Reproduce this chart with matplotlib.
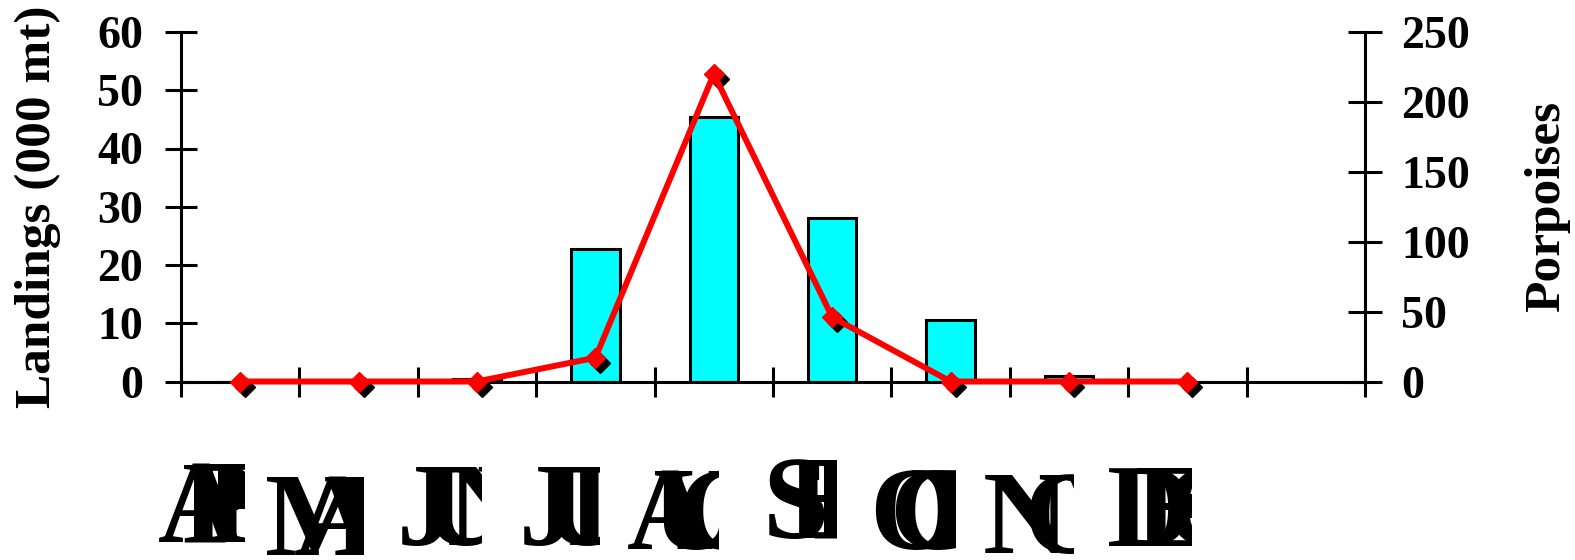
import numpy as np
import matplotlib
matplotlib.use("Agg")
import matplotlib.pyplot as plt
from matplotlib import transforms
from matplotlib.transforms import Bbox, TransformedBbox

plt.rcParams['font.family'] = ['Liberation Serif', 'DejaVu Serif']
plt.rcParams['font.weight'] = 'bold'

# data
months = ["APR", "MAY", "JUN", "JUL", "AUG", "SEP", "OCT", "NOV", "DEC"]
landings = [0.0, 0.0, 0.5, 22.7, 45.4, 28.1, 10.6, 1.0, 0.0]     # 000 mt
porpoises = [0, 0, 0, 17, 220, 46, 0, 0, 0]
n_slots = 10  # the last slot on the axis is empty

# layout of the squashed month labels (pixels)
label_start = [-82, -94, -80, -77, -87, -70, -81, -86, -80]
label_step = [24, 29, 25, 25, 25, 25, 20, 40, 28]
label_drop = [-3, 10, 0, 0, 4, -7, 4, 8, 1]

fig = plt.figure(figsize=(15.75, 5.6), dpi=100)
ax = fig.add_axes([181 / 1575, 178.5 / 560, 1184 / 1575, 349.5 / 560])
ax2 = ax.twinx()

x = np.arange(len(months))
ax.bar(x, landings, width=0.41, color='#00FFFF', edgecolor='black',
       linewidth=2.2, zorder=2)

# black "shadow" markers, then the red series on top
shadow = transforms.offset_copy(ax2.transData, fig=fig, x=5, y=-5, units='dots')
ax2.plot(x, porpoises, linestyle='none', marker='D', markersize=10,
         color='black', transform=shadow, zorder=3, clip_on=False)
ax2.plot(x, porpoises, color='#FF0000', linewidth=4.3, marker='D',
         markersize=10, zorder=4, clip_on=False)

ax.set_xlim(-0.5, n_slots - 0.5)
ax.set_ylim(0, 60)
ax2.set_ylim(0, 250)
ax.set_yticks(range(0, 61, 10))
ax2.set_yticks(range(0, 251, 50))
ax.set_xticks(np.arange(-0.5, n_slots, 1))
ax.set_xticklabels([])

for a in (ax, ax2):
    a.spines['top'].set_visible(False)
    for s in a.spines.values():
        s.set_linewidth(2.2)
ax.spines['right'].set_visible(False)
ax2.spines['left'].set_visible(False)
ax2.spines['bottom'].set_visible(False)

ax.tick_params(axis='y', direction='inout', length=23, width=2.2, pad=16,
               labelsize=33)
ax.tick_params(axis='x', direction='inout', length=22, width=2.2)
ax2.tick_params(axis='y', direction='inout', length=24, width=2.2, pad=14,
                labelsize=33)
for lab in ax.get_yticklabels() + ax2.get_yticklabels():
    lab.set_fontweight('bold')

ax.set_ylabel("Landings (000 mt)", fontsize=37, fontweight='bold', labelpad=26)
ax2.set_ylabel("Porpoises", fontsize=37, fontweight='bold', labelpad=39)

# month labels: letters piled on top of each other and cut at the category centre
blend = transforms.blended_transform_factory(ax.transData, ax.transAxes)
base_y = (15 - 178.5) / 349.5
px = 1 / 100.0
for i, m in enumerate(months):
    clip = TransformedBbox(Bbox([[i - 1.0, -1.2], [i + 5 / 118.4, -0.1]]), blend)
    for k, ch in enumerate(m):
        dx = (label_start[i] + k * label_step[i]) * px
        dy = -label_drop[i] * px
        tr = blend + transforms.ScaledTranslation(dx, dy, fig.dpi_scale_trans)
        t = ax.text(i, base_y, ch, transform=tr, fontsize=86, fontweight='bold',
                    ha='left', va='baseline')
        t.set_clip_path(None)
        t.set_clip_box(clip)
        t.set_clip_on(True)

fig.savefig("out.png", dpi=100)
